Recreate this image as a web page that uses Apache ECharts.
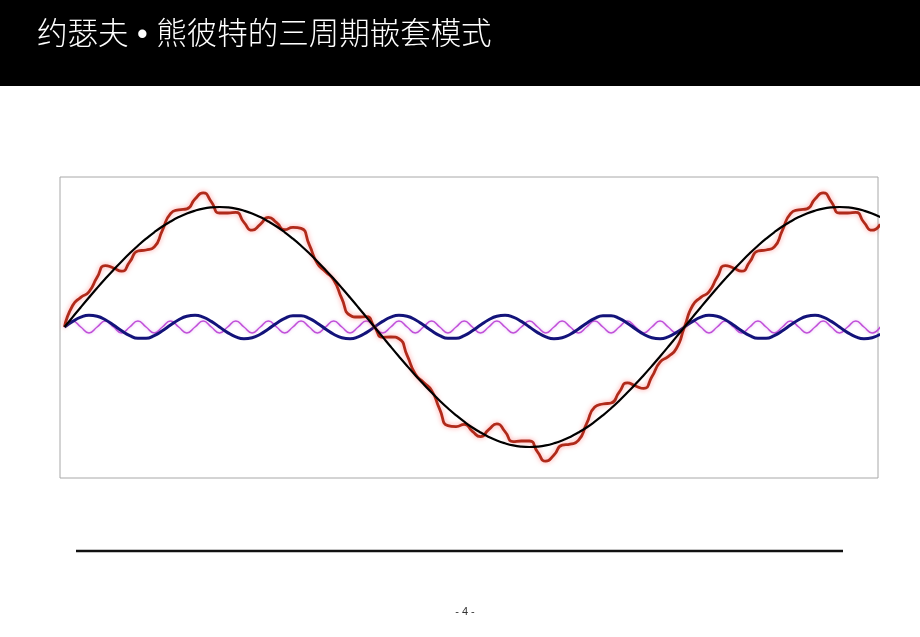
<!DOCTYPE html>
<html>
<head>
<meta charset="utf-8">
<script src="https://cdn.jsdelivr.net/npm/echarts@6/dist/echarts.min.js"></script>
<style>
  html, body { margin: 0; padding: 0; background: #ffffff; }
  #chart { width: 920px; height: 637px; }
</style>
</head>
<body>
<div id="chart"></div>
<script>
// Title and page text
const chartTitle = '约瑟夫 • 熊彼特的三周期嵌套模式';
const pageLabel = '- 4 -';

// Series values, one value per sample (sample index along the time axis)
// Long wave (black)
const kondratieff = [
  0, 9.9, 19.8, 29.5, 39.0, 48.2, 57.1, 65.6, 73.7, 81.3, 88.3, 94.7, 100.5, 105.5, 109.9, 113.5, 116.3, 118.4, 119.6, 120,
  119.6, 118.4, 116.3, 113.5, 109.9, 105.5, 100.5, 94.7, 88.3, 81.3, 73.7, 65.6, 57.1, 48.2, 39.0, 29.5, 19.8, 9.9, 0,
  -9.9, -19.8, -29.5, -39.0, -48.2, -57.1, -65.6, -73.7, -81.3, -88.3, -94.7, -100.5, -105.5, -109.9, -113.5, -116.3, -118.4, -119.6, -120,
  -119.6, -118.4, -116.3, -113.5, -109.9, -105.5, -100.5, -94.7, -88.3, -81.3, -73.7, -65.6, -57.1, -48.2, -39.0, -29.5, -19.8, -9.9, 0,
  9.9, 19.8, 29.5, 39.0, 48.2, 57.1, 65.6, 73.7, 81.3, 88.3, 94.7, 100.5, 105.5, 109.9, 113.5, 116.3, 118.4, 119.6, 120,
  119.6, 118.4, 116.3, 113.5, 109.9
];
// Medium wave (navy)
const juglar = [
  0, 5.6, 9.8, 11.7, 10.7, 7.2, 1.9, -3.8, -8.6, -11.3, -11.3, -8.6, -3.8, 1.9, 7.2, 10.7, 11.7, 9.8, 5.6, 0,
  -5.6, -9.8, -11.7, -10.7, -7.2, -1.9, 3.8, 8.6, 11.3, 11.3, 8.6, 3.8, -1.9, -7.2, -10.7, -11.7, -9.8, -5.6, 0,
  5.6, 9.8, 11.7, 10.7, 7.2, 1.9, -3.8, -8.6, -11.3, -11.3, -8.6, -3.8, 1.9, 7.2, 10.7, 11.7, 9.8, 5.6, 0,
  -5.6, -9.8, -11.7, -10.7, -7.2, -1.9, 3.8, 8.6, 11.3, 11.3, 8.6, 3.8, -1.9, -7.2, -10.7, -11.7, -9.8, -5.6, 0,
  5.6, 9.8, 11.7, 10.7, 7.2, 1.9, -3.8, -8.6, -11.3, -11.3, -8.6, -3.8, 1.9, 7.2, 10.7, 11.7, 9.8, 5.6, 0,
  -5.6, -9.8, -11.7, -10.7, -7.2
];
// Short wave (magenta)
const kitchin = [
  0, 6, 0, -6, 0, 6, 0, -6, 0, 6, 0, -6, 0, 6, 0, -6, 0, 6, 0, -6,
  0, 6, 0, -6, 0, 6, 0, -6, 0, 6, 0, -6, 0, 6, 0, -6, 0, 6, 0, -6,
  0, 6, 0, -6, 0, 6, 0, -6, 0, 6, 0, -6, 0, 6, 0, -6, 0, 6, 0, -6,
  0, 6, 0, -6, 0, 6, 0, -6, 0, 6, 0, -6, 0, 6, 0, -6, 0, 6, 0, -6,
  0, 6, 0, -6, 0, 6, 0, -6, 0, 6, 0, -6, 0, 6, 0, -6, 0, 6, 0, -6,
  0
];
// Composite (red)
const composite = [
  0, 21.5, 29.6, 35.2, 49.7, 61.4, 59.0, 55.8, 65.1, 76.0, 77.0, 80.1, 96.7, 113.4, 117.1, 118.2, 128.0, 134.2, 125.2, 114.0,
  114.0, 114.6, 104.6, 96.8, 102.7, 109.6, 104.3, 97.3, 99.6, 98.6, 82.3, 63.4, 55.2, 47.0, 28.3, 11.8, 10.0, 10.3, 0,
  -10.3, -10.0, -11.8, -28.3, -47.0, -55.2, -63.4, -82.3, -98.6, -99.6, -97.3, -104.3, -109.6, -102.7, -96.8, -104.6, -114.6, -114.0, -114.0,
  -125.2, -134.2, -128.0, -118.2, -117.1, -113.4, -96.7, -80.1, -77.0, -76.0, -65.1, -55.8, -59.0, -61.4, -49.7, -35.2, -29.6, -21.5, 0,
  21.5, 29.6, 35.2, 49.7, 61.4, 59.0, 55.8, 65.1, 76.0, 77.0, 80.1, 96.7, 113.4, 117.1, 118.2, 128.0, 134.2, 125.2, 114.0,
  114.0, 114.6, 104.6, 96.8, 102.7
];

const toPairs = arr => arr.map((v, i) => [i, v]);

const chart = echarts.init(document.getElementById('chart'), null, { renderer: 'canvas' });

const option = {
  animation: false,
  backgroundColor: '#ffffff',
  title: {
    text: chartTitle,
    left: 32,
    top: 15,
    textStyle: {
      color: '#ffffff',
      fontSize: 30.5,
      fontWeight: 300,
      fontFamily: '"Liberation Sans", "Noto Sans CJK SC", sans-serif'
    }
  },
  grid: {
    left: 60,
    right: 42,
    top: 177,
    bottom: 159,
    show: true,
    borderColor: '#a8a8a8',
    borderWidth: 1,
    backgroundColor: '#ffffff',
    containLabel: false
  },
  xAxis: {
    type: 'value',
    min: -0.55,
    max: 99.72,
    axisLine: { show: false },
    axisTick: { show: false },
    axisLabel: { show: false },
    splitLine: { show: false }
  },
  yAxis: {
    type: 'value',
    min: -151,
    max: 150,
    axisLine: { show: false },
    axisTick: { show: false },
    axisLabel: { show: false },
    splitLine: { show: false }
  },
  graphic: [
    {
      type: 'rect',
      z: -10,
      shape: { x: 0, y: 0, width: 920, height: 86 },
      style: { fill: '#000000' }
    },
    {
      type: 'line',
      shape: { x1: 76, y1: 551, x2: 843, y2: 551 },
      style: { stroke: '#111111', lineWidth: 2.5 }
    },
    {
      type: 'text',
      x: 465,
      y: 612,
      style: {
        text: pageLabel,
        fill: '#333333',
        fontSize: 11,
        fontFamily: '"Liberation Sans", Arial, sans-serif',
        align: 'center',
        verticalAlign: 'middle'
      }
    }
  ],
  series: [
    {
      name: 'Kitchin',
      type: 'line',
      data: toPairs(kitchin),
      smooth: 0.5,
      showSymbol: false,
      z: 2,
      lineStyle: {
        color: '#c050d8',
        width: 1.5,
        shadowColor: 'rgba(210,120,235,0.5)',
        shadowBlur: 3
      }
    },
    {
      name: 'Juglar',
      type: 'line',
      data: toPairs(juglar),
      smooth: 0.5,
      showSymbol: false,
      z: 3,
      lineStyle: { color: '#13137a', width: 3 }
    },
    {
      name: 'Composite',
      type: 'line',
      data: toPairs(composite),
      smooth: 0.6,
      showSymbol: false,
      z: 4,
      lineStyle: {
        color: '#b02a1a',
        width: 2.8,
        shadowColor: 'rgba(255,100,100,0.65)',
        shadowBlur: 5
      }
    },
    {
      name: 'Kondratieff',
      type: 'line',
      data: toPairs(kondratieff),
      smooth: 0.5,
      showSymbol: false,
      z: 5,
      lineStyle: { color: '#000000', width: 2.2 }
    }
  ]
};

chart.setOption(option);
</script>
</body>
</html>
